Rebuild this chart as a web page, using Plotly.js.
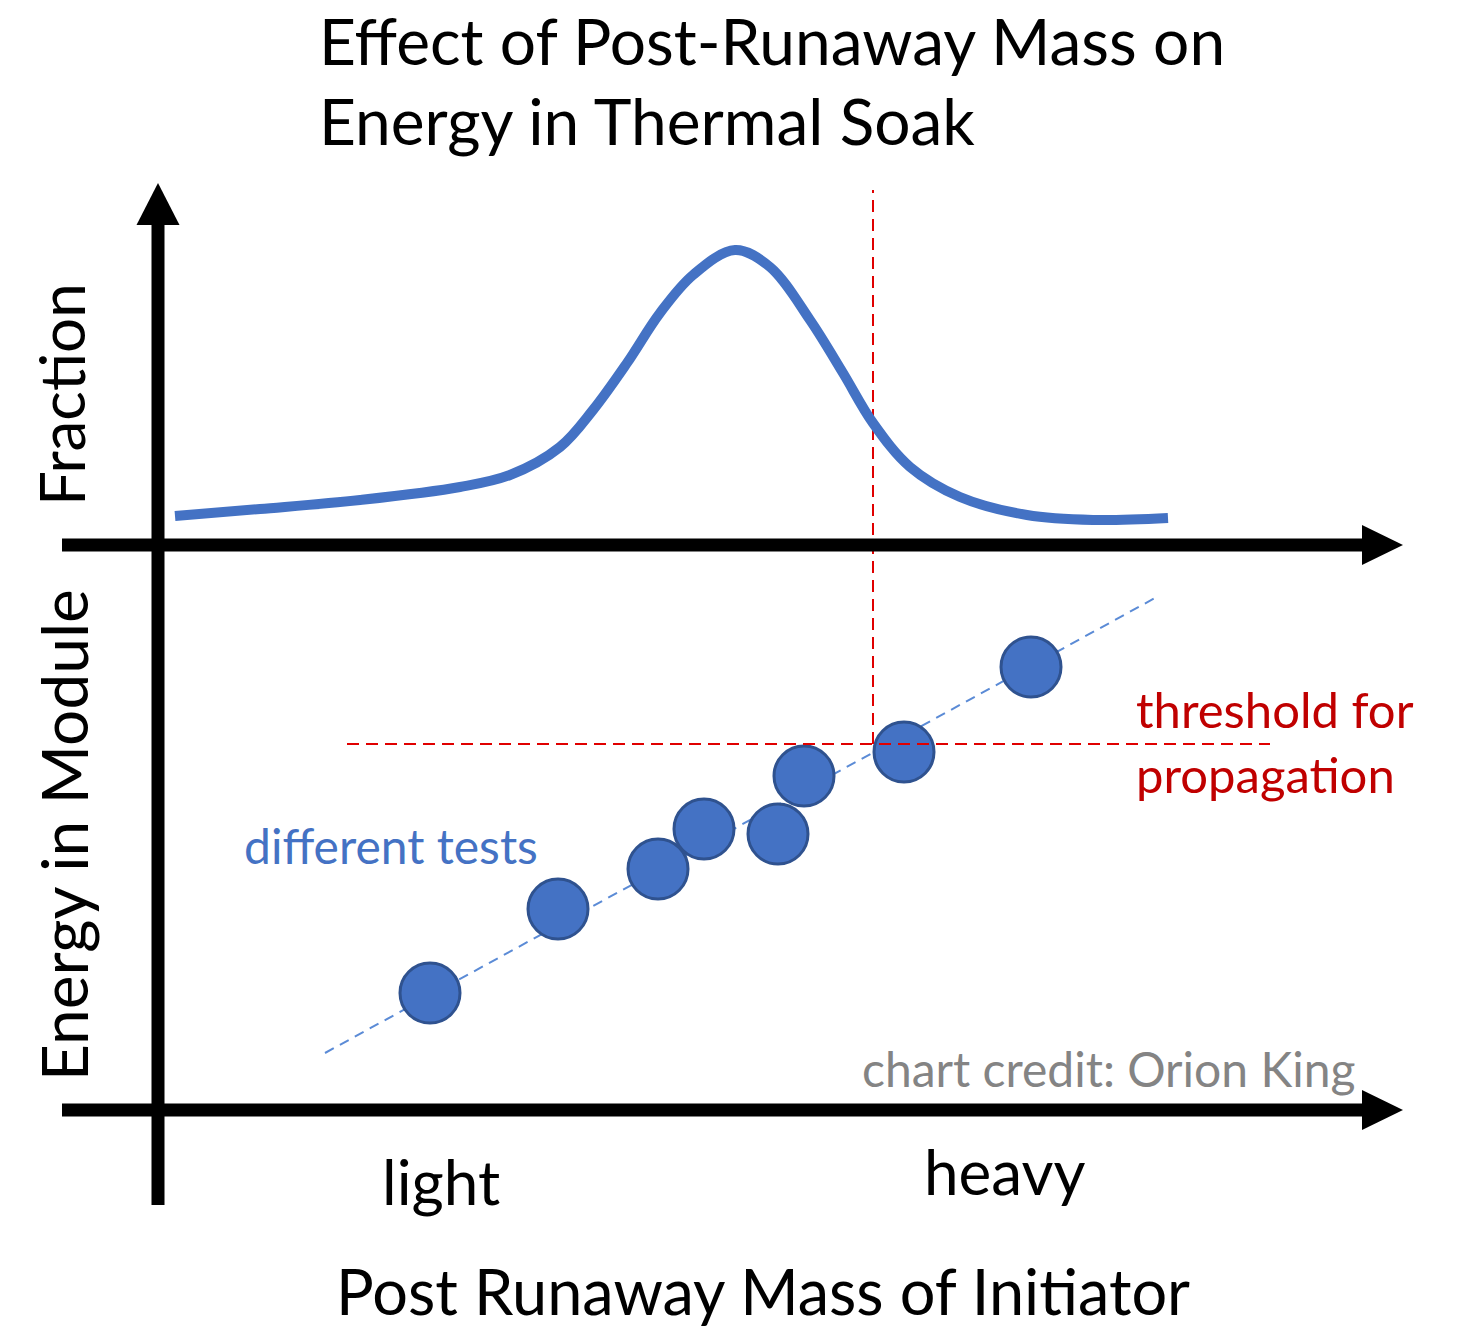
<!DOCTYPE html>
<html>
<head>
<meta charset="utf-8">
<script src="https://cdn.plot.ly/plotly-3.0.1.min.js"></script>
<style>html,body{margin:0;padding:0;background:#fff;}#chart{width:1475px;height:1329px;}</style>
</head>
<body>
<div id="chart"></div>
<script>
// ---- Data (schematic units: mass to the right of the origin, fraction/energy above each baseline) ----
const curveMass = [17, 102, 202, 302, 352, 402, 435, 469, 502, 535, 577, 612, 652, 685, 715, 752, 802, 869, 935, 1010];
const curveFraction = [29, 36, 45, 58, 70, 98, 135, 182, 232, 270, 295, 278, 225, 172, 122, 78, 48, 30, 25, 27];

const testMass = [272, 400, 500, 546, 620, 646, 746, 873];
const testEnergy = [117, 201, 241, 281, 276, 334, 358, 443];

const trendMass = [167, 997];
const trendEnergy = [57, 512];

const thresholdMass = [189, 1112];
const thresholdEnergy = [366, 366];

const criticalMass = [715, 715];
const criticalSpan = [366, 920];

const titleLines = ['Effect of Post-Runaway Mass on', 'Energy in Thermal Soak'];
const titleY = [1070, 990];
const xTickLabels = ['light', 'heavy'];
const xTickPos = [283, 846];
const xTickY = [-71, -61];

// ---- Styling ----
const FONT = 'Lato, "Open Sans", sans-serif';
const BLUE = '#4472C4';
const RED = '#C00000';
const AXW = 13;

const traces = [
  { x: trendMass, y: trendEnergy, mode: 'lines', yaxis: 'y',
    line: { color: '#5B8BD6', width: 2, dash: '10px,7px' }, hoverinfo: 'skip', showlegend: false },
  { x: curveMass, y: curveFraction, mode: 'lines', yaxis: 'y2',
    line: { color: BLUE, width: 10, shape: 'spline', smoothing: 1 }, showlegend: false },
  { x: testMass, y: testEnergy, mode: 'markers', yaxis: 'y',
    marker: { size: 60, color: BLUE, line: { color: '#2F528F', width: 3 } }, showlegend: false },
  { x: thresholdMass, y: thresholdEnergy, mode: 'lines', yaxis: 'y',
    line: { color: '#E00000', width: 2, dash: '12px,7px' }, showlegend: false },
  { x: criticalMass, y: criticalSpan, mode: 'lines', yaxis: 'y',
    line: { color: '#E00000', width: 2, dash: '12px,7px' }, showlegend: false }
];

const shapes = [
  { type: 'line', xref: 'x', yref: 'y', x0: 0, x1: 0, y0: -95, y1: 886, line: { color: '#000', width: AXW }, layer: 'above' },
  { type: 'line', xref: 'x', yref: 'y2', x0: -96, x1: 1205, y0: 0, y1: 0, line: { color: '#000', width: AXW }, layer: 'above' },
  { type: 'line', xref: 'x', yref: 'y', x0: -96, x1: 1205, y0: 0, y1: 0, line: { color: '#000', width: AXW }, layer: 'above' },
  { type: 'path', xref: 'x', yref: 'y', path: 'M -21.5,885 L 0,927 L 21.5,885 Z', fillcolor: '#000', line: { width: 0 }, layer: 'above' },
  { type: 'path', xref: 'x', yref: 'y2', path: 'M 1204,20 L 1245,0 L 1204,-20 Z', fillcolor: '#000', line: { width: 0 }, layer: 'above' },
  { type: 'path', xref: 'x', yref: 'y', path: 'M 1204,20 L 1245,0 L 1204,-20 Z', fillcolor: '#000', line: { width: 0 }, layer: 'above' }
];

const annotations = [
  { text: 'Fraction', x: -97, y: 150, xref: 'x', yref: 'y2', textangle: -90, showarrow: false,
    font: { family: FONT, size: 62, color: '#000' }, xanchor: 'center', yanchor: 'middle' },
  { text: 'Energy in Module', x: -95, y: 275, xref: 'x', yref: 'y', textangle: -90, showarrow: false,
    font: { family: FONT, size: 64, color: '#000' }, xanchor: 'center', yanchor: 'middle' },
  { text: 'threshold for', x: 976, y: 401, xref: 'x', yref: 'y', showarrow: false,
    font: { family: FONT, size: 49, color: RED }, xanchor: 'left', yanchor: 'middle' },
  { text: 'propagation', x: 976, y: 336, xref: 'x', yref: 'y', showarrow: false,
    font: { family: FONT, size: 49, color: RED }, xanchor: 'left', yanchor: 'middle' },
  { text: 'different tests', x: 84, y: 265, xref: 'x', yref: 'y', showarrow: false,
    font: { family: FONT, size: 48, color: BLUE }, xanchor: 'left', yanchor: 'middle' },
  { text: 'chart credit: Orion King', x: 702, y: 42, xref: 'x', yref: 'y', showarrow: false,
    font: { family: FONT, size: 48, color: '#848484' }, xanchor: 'left', yanchor: 'middle' },
  { text: 'Post Runaway Mass of Initiator', x: 605, y: -180, xref: 'x', yref: 'y', showarrow: false,
    font: { family: FONT, size: 63, color: '#000' }, xanchor: 'center', yanchor: 'middle' }
];
titleLines.forEach((t, i) => annotations.push({
  text: t, x: 159, y: titleY[i], xref: 'x', yref: 'y', showarrow: false,
  font: { family: FONT, size: 64, color: '#000' }, xanchor: 'left', yanchor: 'middle'
}));
xTickLabels.forEach((t, i) => annotations.push({
  text: t, x: xTickPos[i], y: xTickY[i], xref: 'x', yref: 'y', showarrow: false,
  font: { family: FONT, size: 62, color: '#000' }, xanchor: 'center', yanchor: 'middle'
}));

const hidden = { showgrid: false, zeroline: false, showticklabels: false, ticks: '', showline: false, fixedrange: true };

const layout = {
  width: 1475, height: 1329,
  margin: { l: 0, r: 0, t: 0, b: 0, pad: 0 },
  paper_bgcolor: '#fff', plot_bgcolor: '#fff',
  showlegend: false,
  xaxis: Object.assign({ range: [-158, 1317] }, hidden),
  yaxis: Object.assign({ range: [-219, 1110], domain: [0, 1] }, hidden),
  yaxis2: Object.assign({ range: [-784, 545], overlaying: 'y' }, hidden),
  shapes: shapes,
  annotations: annotations
};

Plotly.newPlot('chart', traces, layout, { displayModeBar: false, staticPlot: true });
</script>
</body>
</html>
